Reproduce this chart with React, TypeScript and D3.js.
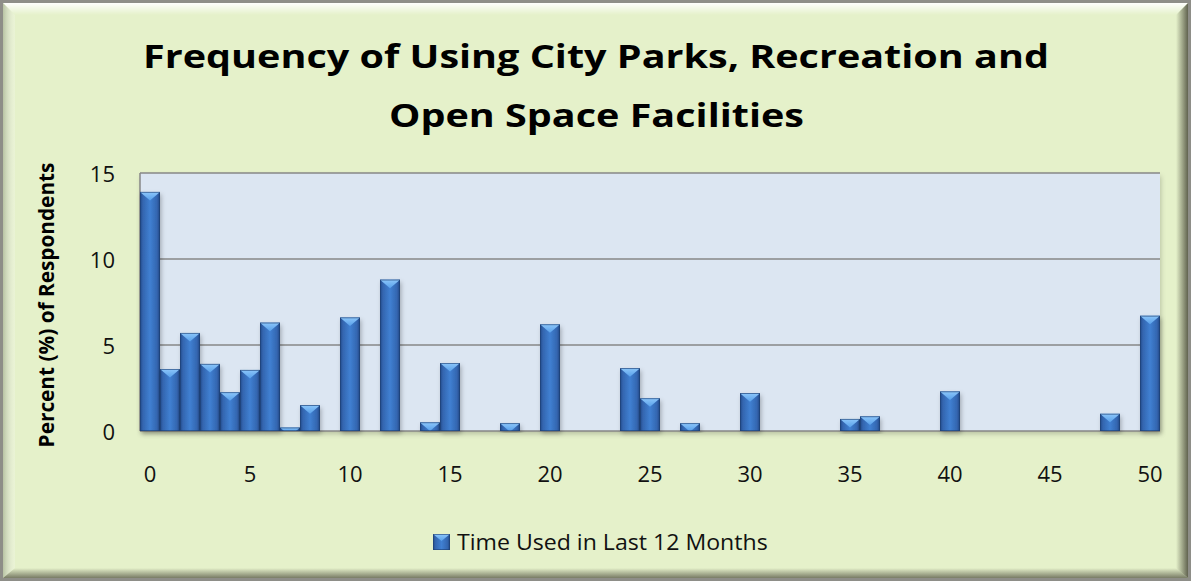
import React, { useLayoutEffect, useRef, useState } from "react";
import * as d3 from "d3";

const categories: number[] = [
  0, 1, 2, 3, 4, 5, 6, 7, 8, 9, 10, 11, 12, 13, 14, 15, 16, 17, 18, 19, 20, 21, 22, 23, 24, 25,
  26, 27, 28, 29, 30, 31, 32, 33, 34, 35, 36, 37, 38, 39, 40, 41, 42, 43, 44, 45, 46, 47, 48, 49, 50,
];
const timeUsed: number[] = [
  13.9, 3.6, 5.7, 3.9, 2.25, 3.55, 6.3, 0.2, 1.5, 0, 6.6, 0, 8.8, 0, 0.5, 3.95, 0, 0, 0.45, 0, 6.2,
  0, 0, 0, 3.65, 1.9, 0, 0.45, 0, 0, 2.2, 0, 0, 0, 0, 0.7, 0.85, 0, 0, 0, 2.3, 0, 0, 0, 0, 0, 0, 0,
  1.0, 0, 6.7,
];
const xTickLabels: number[] = [0, 5, 10, 15, 20, 25, 30, 35, 40, 45, 50];
const yTicks: number[] = [0, 5, 10, 15];
const titleLines: string[] = ["Frequency of Using City Parks, Recreation and", "Open Space Facilities"];
const yAxisTitle = "Percent (%) of Respondents";
const seriesName = "Time Used in Last 12 Months";

const W = 1191;
const H = 581;
const FONT = "'Open Sans', 'Noto Sans', 'DejaVu Sans', sans-serif";

function FitText({
  x,
  y,
  width,
  rotate = 0,
  anchor = "middle",
  children,
  ...rest
}: {
  x: number;
  y: number;
  width: number;
  rotate?: number;
  anchor?: "start" | "middle" | "end";
  children: string;
  [k: string]: any;
}) {
  const ref = useRef<SVGTextElement>(null);
  const [sx, setSx] = useState(1);
  useLayoutEffect(() => {
    if (ref.current) {
      const len = ref.current.getComputedTextLength();
      if (len > 0) setSx(width / len);
    }
  }, [width, children]);
  return (
    <g transform={`translate(${x},${y}) rotate(${rotate}) scale(${sx},1)`}>
      <text ref={ref} x={0} y={0} textAnchor={anchor} {...rest}>
        {children}
      </text>
    </g>
  );
}

function Bar({ x0, y0, w, h }: { x0: number; y0: number; w: number; h: number }) {
  if (h <= 0) return null;
  const triH = 8.5;
  const xc = x0 + w / 2;
  let pts: string;
  if (h >= triH) {
    pts = `${x0},${y0} ${x0 + w},${y0} ${xc},${y0 + triH}`;
  } else {
    const k = (w / 2) * (1 - h / triH);
    pts = `${x0},${y0} ${x0 + w},${y0} ${xc + k},${y0 + h} ${xc - k},${y0 + h}`;
  }
  return (
    <g>
      <rect x={x0} y={y0} width={w} height={h} fill="url(#barBody)" filter="url(#barShadow)" />
      <polygon points={pts} fill="url(#barTop)" />
      <rect x={x0 + 0.4} y={y0 + 0.4} width={w - 0.8} height={Math.max(0, h - 0.8)} fill="none" stroke="#1e3f72" strokeOpacity={0.75} strokeWidth={0.8} />
    </g>
  );
}

export default function App() {
  const x = d3
    .scaleBand<number>()
    .domain(categories)
    .range([140, 1160])
    .paddingInner(0)
    .paddingOuter(0);
  const y = d3.scaleLinear().domain([0, 15]).range([431, 173]);
  const bw = x.bandwidth();

  return (
    <div style={{ position: "absolute", left: 0, top: 0 }}>
      <svg width={W} height={H} xmlns="http://www.w3.org/2000/svg" style={{ display: "block" }}>
        <defs>
          <linearGradient id="barBody" x1="0" y1="0" x2="1" y2="0">
            <stop offset="0" stopColor="#254c8a" />
            <stop offset="0.15" stopColor="#3366b0" />
            <stop offset="0.5" stopColor="#4080d2" />
            <stop offset="0.85" stopColor="#3366b0" />
            <stop offset="1" stopColor="#214782" />
          </linearGradient>
          <linearGradient id="barTop" x1="0" y1="0" x2="0" y2="1">
            <stop offset="0" stopColor="#8cc6fa" />
            <stop offset="1" stopColor="#58a0ea" />
          </linearGradient>
          <linearGradient id="bevelTop" x1="0" y1="0" x2="0" y2="1">
            <stop offset="0" stopColor="#ffffff" stopOpacity={0.95} />
            <stop offset="1" stopColor="#ffffff" stopOpacity={0} />
          </linearGradient>
          <linearGradient id="bevelLeft" x1="0" y1="0" x2="1" y2="0">
            <stop offset="0" stopColor="#9aa58a" stopOpacity={0.6} />
            <stop offset="1" stopColor="#ffffff" stopOpacity={0.2} />
          </linearGradient>
          <linearGradient id="bevelRight" x1="0" y1="0" x2="1" y2="0">
            <stop offset="0" stopColor="#4a4a3a" stopOpacity={0} />
            <stop offset="1" stopColor="#4a4a3a" stopOpacity={0.85} />
          </linearGradient>
          <linearGradient id="bevelBottom" x1="0" y1="0" x2="0" y2="1">
            <stop offset="0" stopColor="#4a4a3a" stopOpacity={0} />
            <stop offset="1" stopColor="#4a4a3a" stopOpacity={0.7} />
          </linearGradient>
          <filter id="barShadow" x="-30%" y="-10%" width="170%" height="130%">
            <feDropShadow dx="1.5" dy="2.5" stdDeviation="2" floodColor="#000" floodOpacity="0.25" />
          </filter>
          <filter id="plotShadow" x="-5%" y="-5%" width="110%" height="115%">
            <feDropShadow dx="1" dy="3" stdDeviation="2.5" floodColor="#000" floodOpacity="0.2" />
          </filter>
        </defs>

        {/* frame */}
        <rect x={0} y={0} width={W} height={H} fill="#8e8e88" />
        <rect x={3} y={3} width={W - 6} height={H - 6} fill="#e5f1ca" />
        <polygon points={`3,3 ${W - 3},3 ${W - 15},15 15,15`} fill="url(#bevelTop)" />
        <polygon points={`3,3 15,15 15,${H - 13} 3,${H - 3}`} fill="url(#bevelLeft)" />
        <polygon points={`${W - 3},3 ${W - 3},${H - 3} ${W - 15},${H - 13} ${W - 15},15`} fill="url(#bevelRight)" />
        <polygon points={`3,${H - 3} ${W - 3},${H - 3} ${W - 15},${H - 13} 15,${H - 13}`} fill="url(#bevelBottom)" />

        {/* title */}
        <FitText x={596} y={68} width={906} fontFamily={FONT} fontWeight={700} fontSize={33} fill="#000">
          {titleLines[0]}
        </FitText>
        <FitText x={596.5} y={127} width={415} fontFamily={FONT} fontWeight={700} fontSize={33} fill="#000">
          {titleLines[1]}
        </FitText>

        {/* plot area */}
        <rect x={x.range()[0]} y={y(15)} width={x.range()[1] - x.range()[0]} height={y(0) - y(15)} fill="#dce6f2" filter="url(#plotShadow)" />
        {yTicks.map((t) => (
          <line key={t} x1={x.range()[0]} x2={x.range()[1]} y1={y(t)} y2={y(t)} stroke="#878787" strokeWidth={1.5} />
        ))}
        <line x1={x.range()[0]} x2={x.range()[0]} y1={y(15)} y2={y(0)} stroke="#878787" strokeWidth={1.5} />

        {/* bars */}
        {categories.map((c, i) => (
          <Bar key={c} x0={x(c) as number} y0={y(timeUsed[i])} w={bw} h={y(0) - y(timeUsed[i])} />
        ))}

        {/* y ticks */}
        {yTicks.map((t) => (
          <text key={t} x={115} y={y(t)} textAnchor="end" dominantBaseline="central" fontFamily={FONT} fontSize={22} fill="#111">
            {t}
          </text>
        ))}
        {/* x ticks */}
        {xTickLabels.map((t) => (
          <text key={t} x={(x(t) as number) + bw / 2} y={473} textAnchor="middle" dominantBaseline="central" fontFamily={FONT} fontSize={22} fill="#111">
            {t}
          </text>
        ))}

        {/* y axis title */}
        <FitText x={45} y={305} rotate={-90} width={285} dominantBaseline="central" fontFamily={FONT} fontWeight={700} fontSize={22} fill="#000">
          {yAxisTitle}
        </FitText>

        {/* legend */}
        <g>
          <rect x={433} y={534} width={17} height={16} fill="url(#barBody)" />
          <polygon points="433,534 450,534 441.5,541" fill="url(#barTop)" />
          <rect x={433.4} y={534.4} width={16.2} height={15.2} fill="none" stroke="#1e3f72" strokeOpacity={0.75} strokeWidth={0.8} />
          <FitText x={457} y={550} width={311} anchor="start" fontFamily={FONT} fontSize={22} fill="#111">
            {seriesName}
          </FitText>
        </g>
      </svg>
    </div>
  );
}
